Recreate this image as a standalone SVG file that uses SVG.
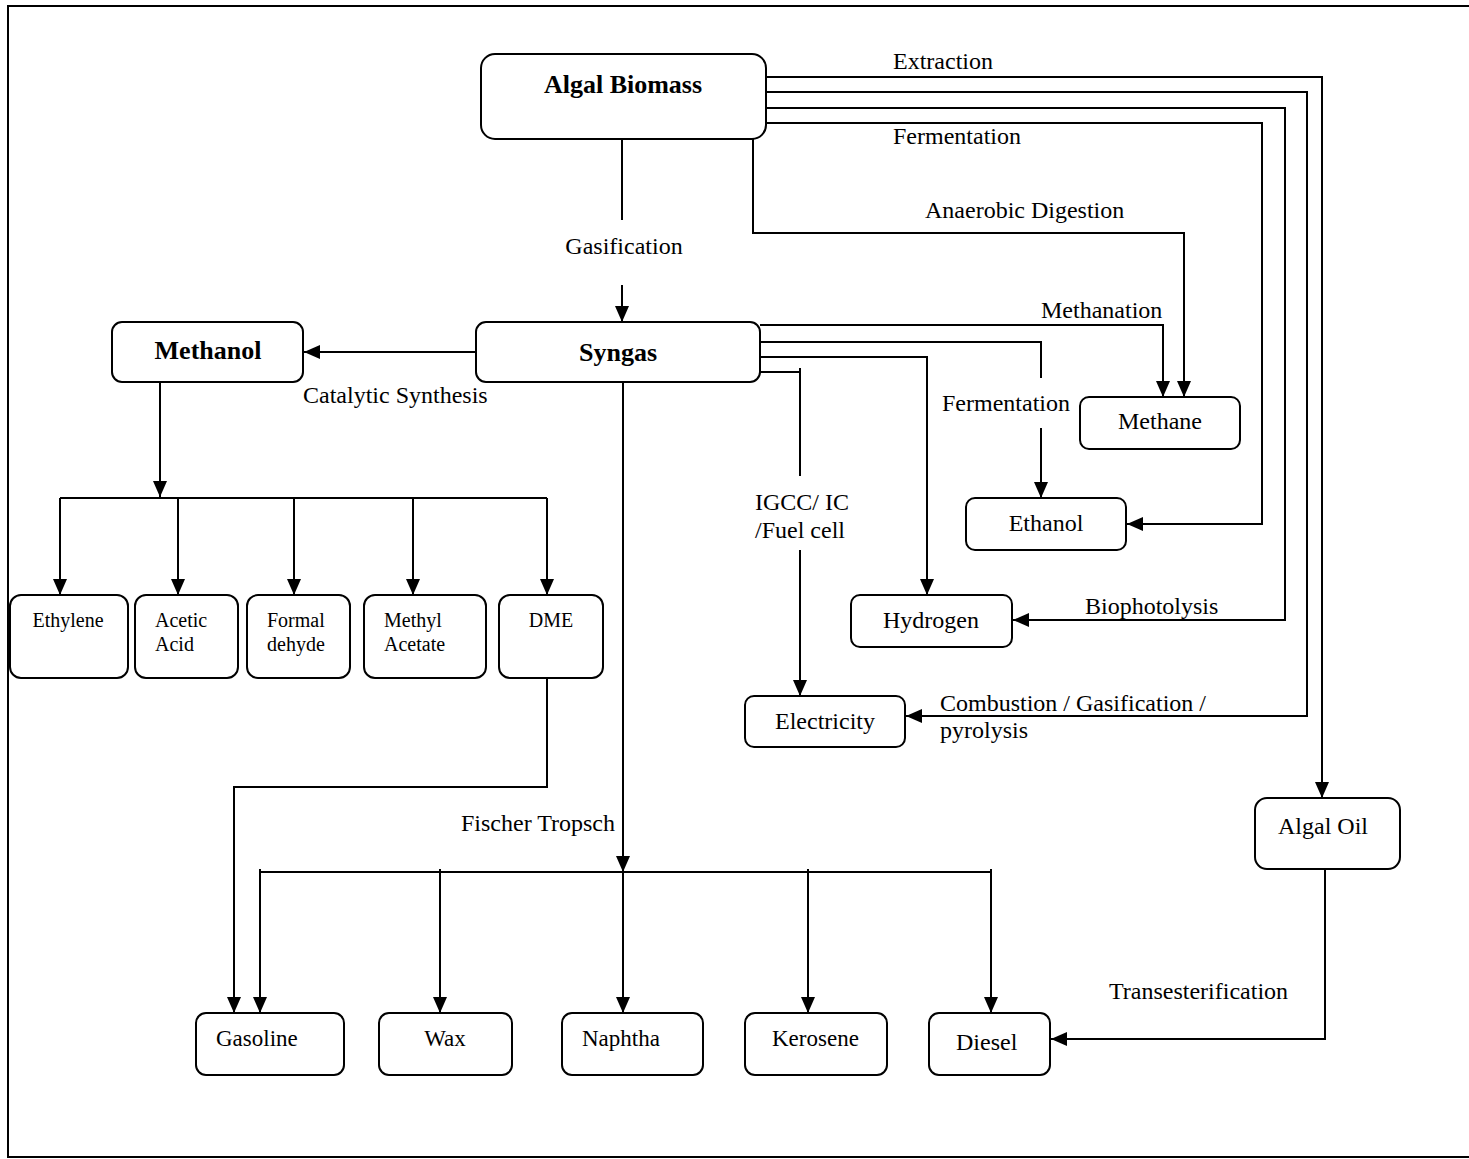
<svg xmlns="http://www.w3.org/2000/svg" width="1469" height="1159" viewBox="0 0 1469 1159">
<style>
.box{fill:#fff;stroke:#000;stroke-width:2}
.c{fill:none;stroke:#000;stroke-width:2}
.t{font-family:"Liberation Serif","Times New Roman",serif;font-size:24px;fill:#000}
.b{font-family:"Liberation Serif","Times New Roman",serif;font-size:26px;font-weight:bold;fill:#000}
.s{font-family:"Liberation Serif","Times New Roman",serif;font-size:20px;fill:#000}
.p{font-family:"Liberation Serif","Times New Roman",serif;font-size:23px;fill:#000}
.m{text-anchor:middle}
</style>
<defs>
<marker id="ah" markerUnits="userSpaceOnUse" markerWidth="16" markerHeight="14" refX="16" refY="7" orient="auto">
<path d="M0,0 L16,7 L0,14 z" fill="#000"/>
</marker>
</defs>
<rect width="1469" height="1159" fill="#fff"/>
<path d="M1469,6 H8 V1157 H1469" fill="none" stroke="#000" stroke-width="2"/>

<g id="connectors">
<path class="c" d="M766,77 H1322 V798" marker-end="url(#ah)"/>
<path class="c" d="M766,92 H1307 V716 H906" marker-end="url(#ah)"/>
<path class="c" d="M766,108 H1285 V620 H1013" marker-end="url(#ah)"/>
<path class="c" d="M766,123 H1262 V524 H1127" marker-end="url(#ah)"/>
<path class="c" d="M753,137 V233 H1184 V397" marker-end="url(#ah)"/>
<path class="c" d="M622,140 V220"/>
<path class="c" d="M622,285 V322" marker-end="url(#ah)"/>
<path class="c" d="M760,325 H1163 V397" marker-end="url(#ah)"/>
<path class="c" d="M760,342 H1041 V378"/>
<path class="c" d="M1041,428 V498" marker-end="url(#ah)"/>
<path class="c" d="M760,357 H927 V595" marker-end="url(#ah)"/>
<path class="c" d="M760,372 H800 M800,368 V476"/>
<path class="c" d="M800,550 V696" marker-end="url(#ah)"/>
<path class="c" d="M476,352 H304" marker-end="url(#ah)"/>
<path class="c" d="M160,382 V497" marker-end="url(#ah)"/>
<path class="c" d="M60,498 H547"/>
<path class="c" d="M60,498 V595" marker-end="url(#ah)"/>
<path class="c" d="M178,498 V595" marker-end="url(#ah)"/>
<path class="c" d="M294,498 V595" marker-end="url(#ah)"/>
<path class="c" d="M413,498 V595" marker-end="url(#ah)"/>
<path class="c" d="M547,498 V595" marker-end="url(#ah)"/>
<path class="c" d="M547,678 V787 H234 V1013" marker-end="url(#ah)"/>
<path class="c" d="M623,382 V872" marker-end="url(#ah)"/>
<path class="c" d="M260,872 H991"/>
<path class="c" d="M260,869 V1013" marker-end="url(#ah)"/>
<path class="c" d="M440,869 V1013" marker-end="url(#ah)"/>
<path class="c" d="M623,872 V1013" marker-end="url(#ah)"/>
<path class="c" d="M808,869 V1013" marker-end="url(#ah)"/>
<path class="c" d="M991,869 V1013" marker-end="url(#ah)"/>
<path class="c" d="M1325,869 V1039 H1051" marker-end="url(#ah)"/>
</g>

<g id="labels">
<text class="t" x="893" y="69">Extraction</text>
<text class="t" x="893" y="144">Fermentation</text>
<text class="t" x="925" y="218">Anaerobic Digestion</text>
<text class="t m" x="624" y="254">Gasification</text>
<text class="t" x="1041" y="318">Methanation</text>
<text class="t" x="942" y="411">Fermentation</text>
<text class="t" x="303" y="403">Catalytic Synthesis</text>
<text class="t" x="755" y="510">IGCC/ IC</text>
<text class="t" x="755" y="538">/Fuel cell</text>
<text class="t" x="1085" y="614">Biophotolysis</text>
<text class="t" x="940" y="711">Combustion / Gasification /</text>
<text class="t" x="940" y="738">pyrolysis</text>
<text class="t" x="461" y="831">Fischer Tropsch</text>
<text class="t" x="1109" y="999">Transesterification</text>
</g>

<g id="algal-biomass"><rect class="box" x="481" y="54" width="285" height="85" rx="14"/><text class="b m" x="623" y="93">Algal Biomass</text></g>
<g id="syngas"><rect class="box" x="476" y="322" width="284" height="60" rx="10"/><text class="b m" x="618" y="361">Syngas</text></g>
<g id="methanol"><rect class="box" x="112" y="322" width="191" height="60" rx="10"/><text class="b m" x="208" y="359">Methanol</text></g>
<g id="methane"><rect class="box" x="1080" y="397" width="160" height="52" rx="9"/><text class="t m" x="1160" y="429">Methane</text></g>
<g id="ethanol"><rect class="box" x="966" y="498" width="160" height="52" rx="9"/><text class="t m" x="1046" y="531">Ethanol</text></g>
<g id="hydrogen"><rect class="box" x="851" y="595" width="161" height="52" rx="9"/><text class="t m" x="931" y="628">Hydrogen</text></g>
<g id="electricity"><rect class="box" x="745" y="696" width="160" height="51" rx="9"/><text class="t m" x="825" y="729">Electricity</text></g>
<g id="algal-oil"><rect class="box" x="1255" y="798" width="145" height="71" rx="12"/><text class="t m" x="1323" y="834">Algal Oil</text></g>
<g id="ethylene"><rect class="box" x="10" y="595" width="118" height="83" rx="11"/><text class="s m" x="68" y="627">Ethylene</text></g>
<g id="acetic-acid"><rect class="box" x="135" y="595" width="103" height="83" rx="11"/><text class="s" x="155" y="627">Acetic</text><text class="s" x="155" y="651">Acid</text></g>
<g id="formaldehyde"><rect class="box" x="247" y="595" width="103" height="83" rx="11"/><text class="s" x="267" y="627">Formal</text><text class="s" x="267" y="651">dehyde</text></g>
<g id="methyl-acetate"><rect class="box" x="364" y="595" width="122" height="83" rx="11"/><text class="s" x="384" y="627">Methyl</text><text class="s" x="384" y="651">Acetate</text></g>
<g id="dme"><rect class="box" x="499" y="595" width="104" height="83" rx="11"/><text class="s m" x="551" y="627">DME</text></g>
<g id="gasoline"><rect class="box" x="196" y="1013" width="148" height="62" rx="10"/><text class="p" x="216" y="1046">Gasoline</text></g>
<g id="wax"><rect class="box" x="379" y="1013" width="133" height="62" rx="10"/><text class="p m" x="445" y="1046">Wax</text></g>
<g id="naphtha"><rect class="box" x="562" y="1013" width="141" height="62" rx="10"/><text class="p" x="582" y="1046">Naphtha</text></g>
<g id="kerosene"><rect class="box" x="745" y="1013" width="142" height="62" rx="10"/><text class="p" x="772" y="1046">Kerosene</text></g>
<g id="diesel"><rect class="box" x="929" y="1013" width="121" height="62" rx="10"/><text class="t" x="956" y="1050">Diesel</text></g>
</svg>
